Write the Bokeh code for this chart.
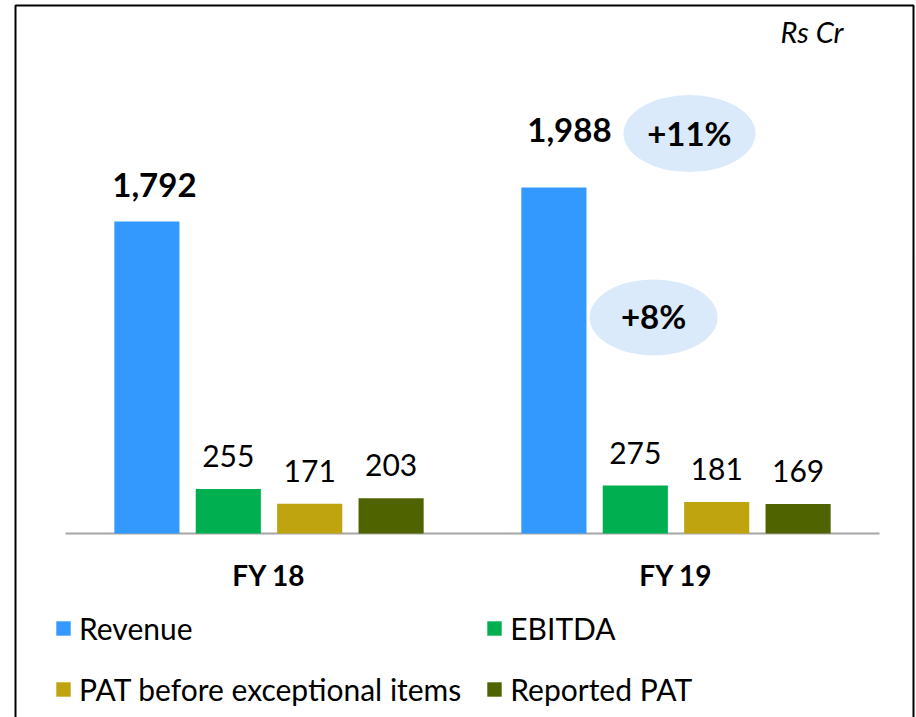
from bokeh.plotting import figure
from bokeh.models import (ColumnDataSource, Range1d, Legend, LegendItem,
                          BoxAnnotation)
from bokeh.core.properties import value
from bokeh.embed import file_html
from bokeh.resources import INLINE

# ---------------- data ----------------
years = ["FY 18", "FY 19"]
revenue = [1792, 1988]
ebitda = [255, 275]
pat_before_exceptional = [171, 181]
reported_pat = [203, 169]
series_names = ["Revenue", "EBITDA", "PAT before exceptional items", "Reported PAT"]
growth_labels = ["+11%", "+8%"]
unit_label = "Rs Cr"

# ---------------- style ----------------
FONT = "Lato"
colors = ["#3399FF", "#00B050", "#BFA30F", "#4F6300"]
series = [revenue, ebitda, pat_before_exceptional, reported_pat]
bar_offsets = [-0.3, -0.1, 0.1, 0.3]
centers = [i + 0.5 for i in range(len(years))]

W, H = 916, 717
p = figure(width=W, height=H,
           x_range=Range1d(-65 / 407, len(years) + 37 / 407),
           y_range=Range1d(-184 / 0.1741, 533 / 0.1741),
           output_backend="svg", toolbar_location=None,
           x_axis_location=None, y_axis_location=None,
           min_border=0)
p.outline_line_color = None
p.xgrid.visible = False
p.ygrid.visible = False
p.background_fill_color = "white"
p.border_fill_color = "white"

# category axis line
p.segment(x0=[0], x1=[len(years)], y0=[0], y1=[0],
          line_color="#A6A6A6", line_width=2)

legend_items = []
for name, vals, color, off in zip(series_names, series, colors, bar_offsets):
    xs = [c + off for c in centers]
    src = ColumnDataSource(dict(x=xs, val=vals,
                                label=[f"{v:,}" for v in vals]))
    r = p.vbar(x="x", top="val", width=0.16, source=src,
               fill_color=color, line_color=None)
    legend_items.append(LegendItem(label=name, renderers=[r]))
    if name == "Revenue":
        src.data["lx"] = [7.5, 15.5]
        src.data["ly"] = [-37, -57]
        p.text(x="x", y="val", text="label", source=src,
               text_font=value(FONT), text_font_size="33px",
               text_font_style="bold", text_align="center",
               text_baseline="alphabetic", x_offset="lx", y_offset="ly",
               text_color="black")
    else:
        p.text(x="x", y="val", text="label", source=src,
               text_font=value(FONT), text_font_size="30px",
               text_align="center", text_baseline="alphabetic",
               y_offset=-33, text_color="black")

# category labels
p.text(x=centers, y=[0] * len(years), text=years, text_font=value(FONT),
       text_font_size="28px", text_font_style="bold", text_align="center",
       text_baseline="alphabetic", y_offset=41, text_color="black")

# growth bubbles
bubble_specs = [(growth_labels[0], 0.033, 2297, 132, 77),
                (growth_labels[1], -0.055, 1241, 128, 76)]
for txt, off, yv, w, h in bubble_specs:
    bsrc = ColumnDataSource(dict(x=[centers[1] + off], y=[yv], text=[txt]))
    p.ellipse(x="x", y="y", width=w, height=h,
              width_units="screen", height_units="screen", source=bsrc,
              fill_color="#DAEAFB", line_color=None)
    p.text(x="x", y="y", text="text", source=bsrc,
           text_font=value(FONT), text_font_size="33px",
           text_font_style="bold", text_align="center",
           text_baseline="alphabetic", y_offset=-1, text_color="black")

# unit label
p.text(x=[centers[1] + 0.4115], y=[2820], text=[unit_label],
       text_font=value(FONT), text_font_size="29px",
       text_font_style="italic", text_align="right",
       text_baseline="alphabetic", y_offset=-11, text_color="black")

# legend
legend = Legend(items=legend_items, location=(54, 9.5),
                orientation="horizontal", ncols=2,
                glyph_width=18, glyph_height=18, label_standoff=7,
                label_height=37, spacing=24, padding=0, margin=0,
                border_line_color=None, background_fill_alpha=0,
                label_text_font=FONT, label_text_font_size="30px",
                label_text_color="black")
p.add_layout(legend)

# outer border box (open at the bottom, beyond the window)
box = BoxAnnotation(left=15, right=913, top=5, bottom=H + 40,
                    left_units="canvas", right_units="canvas",
                    top_units="canvas", bottom_units="canvas",
                    fill_alpha=0, fill_color=None,
                    line_color="black", line_alpha=1.0, line_width=2)
p.add_layout(box)

open("out.html", "w").write(file_html(p, INLINE))
